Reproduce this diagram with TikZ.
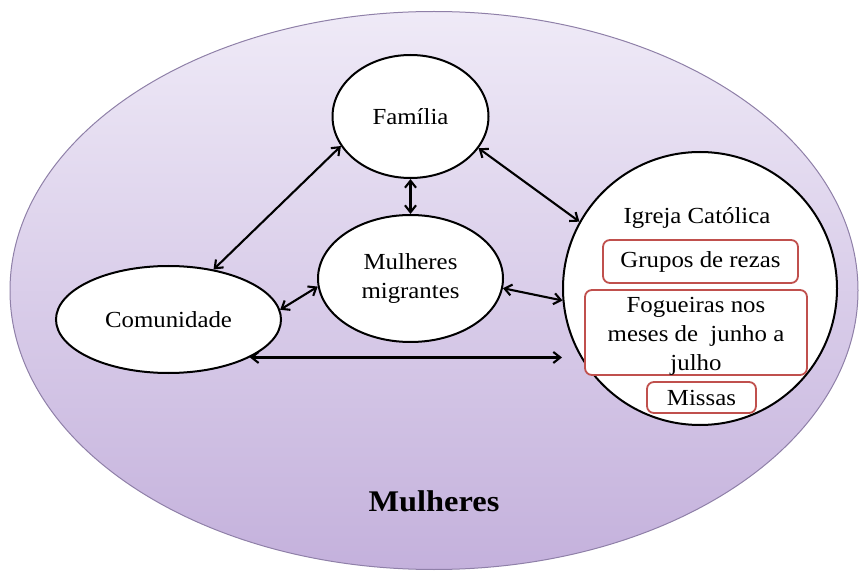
\documentclass[tikz,border=0pt]{standalone}
\usepackage{fontspec}
\setmainfont{Liberation Serif}[FakeStretch=1.08]
\usetikzlibrary{shapes.geometric,arrows.meta}
\definecolor{bgtop}{HTML}{EFEAF7}
\definecolor{bgbot}{HTML}{C4B1DC}
\definecolor{rimc}{HTML}{8F80A8}
\definecolor{boxred}{HTML}{C0504D}
\begin{document}
\begin{tikzpicture}[x=1pt,y=-1pt,
  ell/.style={ellipse,draw=black,line width=2pt,fill=white,inner sep=0pt,font=\fontsize{23}{29}\selectfont,align=center},
  sub/.style={rounded corners=7pt,draw=boxred,line width=1.8pt,fill=white,inner sep=0pt,font=\fontsize{23}{29}\selectfont,align=center},
  lbl/.style={inner sep=0pt,font=\fontsize{23}{29}\selectfont,align=center},
  link/.style={line width=2.1pt,{Straight Barb[length=7pt,width=11pt]}-{Straight Barb[length=7pt,width=11pt]}}]
\useasboundingbox (0,0) rectangle (863,572);
\node[ellipse,minimum width=848pt,minimum height=558pt,top color=bgtop,bottom color=bgbot,draw=rimc,line width=1pt] (outer) at (434,290.5) {};
\node[ell,minimum width=156pt,minimum height=123pt] (fam) at (410.5,116.5) {Família};
\node[ell,minimum width=185pt,minimum height=127pt] (mm) at (410.5,278.5) {Mulheres\\migrantes};
\node[ell,minimum width=225pt,minimum height=107pt] (com) at (168.5,319.5) {Comunidade};
\node[ell,minimum width=274pt,minimum height=273pt] (igr) at (700,288.5) {};
\node[lbl] (igrt) at (697,218) {Igreja Católica};
\node[sub,minimum width=195pt,minimum height=43pt] (grp) at (700.5,261.5) {Grupos de rezas};
\node[sub,minimum width=222pt,minimum height=85pt] (fog) at (696,332.5) {};
\node[lbl] (fogt) at (696,336) {Fogueiras nos\\meses de\ \ junho a\\julho};
\node[sub,minimum width=109pt,minimum height=31pt] (mis) at (701.5,397.5) {Missas};
\node[inner sep=0pt,font=\bfseries\fontsize{30}{36}\selectfont,anchor=base] (mulh) at (434,511) {Mulheres};
\draw[link] (fam.203) -- (com.48);
\draw[link] (fam.335) -- (igr.151);
\draw[link] (fam.south) -- (mm.north);
\draw[link] (mm.185) -- (com.5);
\draw[link] (mm.354) -- (igr.185);
\draw[link] (com.-25) -- (com.-25 -| igr.west);
\end{tikzpicture}
\end{document}
